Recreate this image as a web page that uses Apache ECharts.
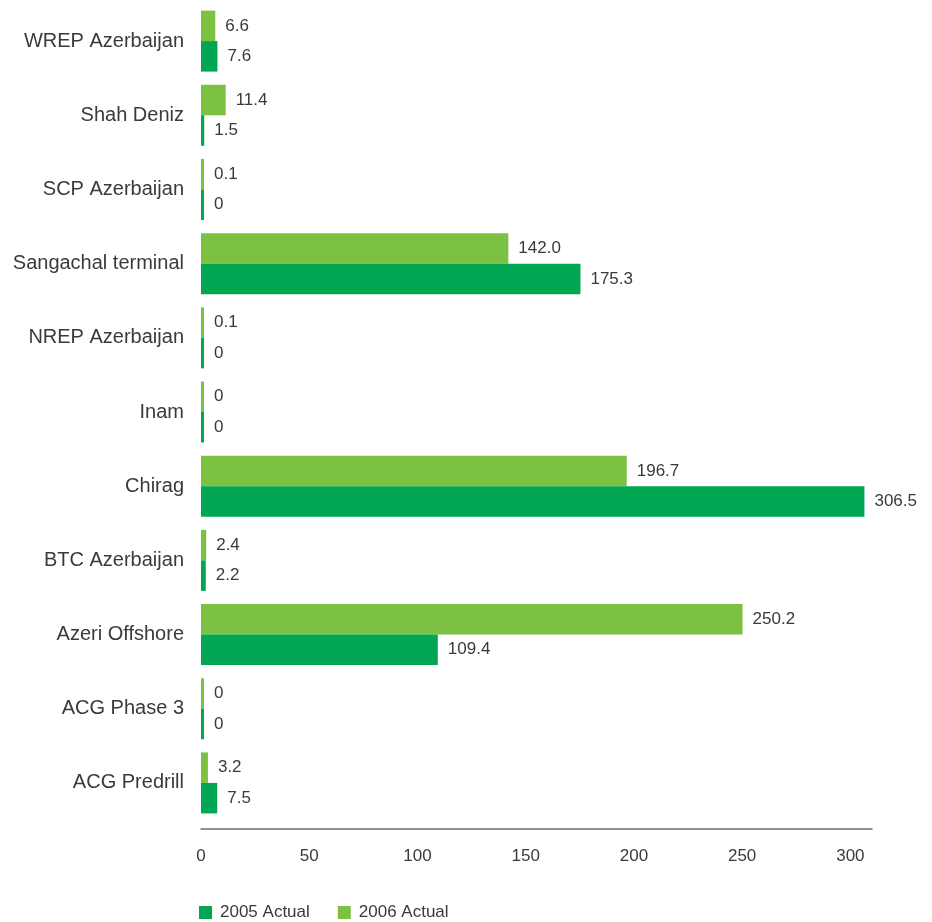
<!DOCTYPE html>
<html>
<head>
<meta charset="utf-8">
<script src="https://cdn.jsdelivr.net/npm/echarts@6/dist/echarts.min.js"></script>
<style>
  html, body { margin:0; padding:0; background:#fff; }
  #chart { width:932px; height:922px; }
</style>
</head>
<body>
<div id="chart"></div>
<script>
// === Datos (categorías de abajo hacia arriba) ===
const categories = ['ACG Predrill','ACG Phase 3','Azeri Offshore','BTC Azerbaijan','Chirag','Inam',
  'NREP Azerbaijan','Sangachal terminal','SCP Azerbaijan','Shah Deniz','WREP Azerbaijan'];
const actual2005 = [7.5, 0, 109.4, 2.2, 306.5, 0, 0, 175.3, 0, 1.5, 7.6];
const actual2006 = [3.2, 0, 250.2, 2.4, 196.7, 0, 0.1, 142.0, 0.1, 11.4, 6.6];
const xTicks = [0, 50, 100, 150, 200, 250, 300];

// === Paleta ===
const dark = '#00a651', light = '#7dc142', text = '#3a3a3a', axis = '#6e6e6e';
const font = 'Liberation Sans, Arial, sans-serif';

const valLabel = { show:true, position:'right', distance:10, fontSize:17, color:text, fontFamily:font,
  formatter:p=> p.value === 0 ? '0' : p.value.toFixed(1) };

const chart = echarts.init(document.getElementById('chart'));
chart.setOption({
  animation:false,
  grid:{ left:201, right:60, top:4, bottom:102 },
  legend:{
    left:194, top:899, itemWidth:13, itemHeight:13, itemGap:28, icon:'rect',
    textStyle:{ fontSize:17, color:text, fontFamily:font, padding:[0,0,0,3] },
    data:['2005 Actual','2006 Actual']
  },
  xAxis:{
    type:'value', min:0, max:310, interval:50, offset:9,
    axisLine:{ show:true, lineStyle:{ color:axis, width:1.5 } },
    axisTick:{ show:false }, splitLine:{ show:false },
    axisLabel:{ margin:19, fontSize:17, color:text, fontFamily:font,
      formatter:v=> xTicks.includes(v) ? String(v) : '' }
  },
  yAxis:{
    type:'category', data:categories,
    axisLine:{ show:false }, axisTick:{ show:false },
    axisLabel:{ margin:17, fontSize:20, color:text, fontFamily:font }
  },
  // 2006 primero => barra superior dentro de cada categoría
  series:[
    { name:'2006 Actual', type:'bar', data:actual2006, itemStyle:{ color:light },
      barWidth:30.5, barGap:'0%', barMinHeight:3, label:valLabel },
    { name:'2005 Actual', type:'bar', data:actual2005, itemStyle:{ color:dark },
      barWidth:30.5, barGap:'0%', barMinHeight:3, label:valLabel }
  ]
});
</script>
</body>
</html>
